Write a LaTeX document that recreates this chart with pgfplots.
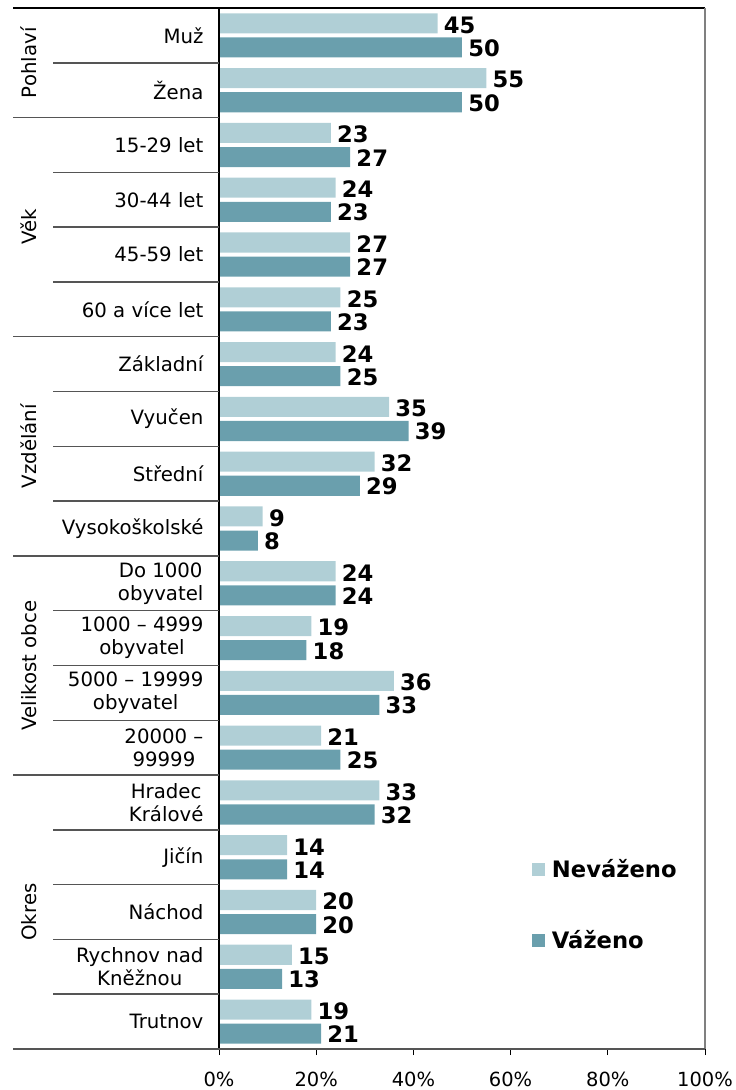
\documentclass[border=0pt]{standalone}
\usepackage{pgfplots}
\pgfplotsset{compat=1.18}
\usepackage{fontspec}
\setmainfont{DejaVu Sans}
\definecolor{light}{RGB}{176,207,214}
\definecolor{dark}{RGB}{106,159,173}
\definecolor{sep}{RGB}{85,85,85}
\begin{document}
\begin{tikzpicture}[x=0.75pt,y=0.75pt]
\useasboundingbox (-219,-41) rectangle (517,1049);
\begin{axis}[
  at={(0,0)}, anchor=south west,
  scale only axis, width=364.5pt, height=780.75pt,
  xmin=0, xmax=100, ymin=0.5, ymax=19.5, y dir=reverse,
  clip=false,
  axis line style={draw=none},
  xtick={0,20,40,60,80,100},
  xticklabels={0\%,20\%,40\%,60\%,80\%,100\%},
  xtick pos=bottom, tick align=outside, major tick length=4.5pt,
  xtick style={black, line width=0.6pt},
  xticklabel style={font=\fontsize{14.6}{17}\selectfont, yshift=-9pt},
  ytick={1,...,19},
  ytick style={draw=none},
  yticklabels={Muž,Žena,15-29 let,30-44 let,45-59 let,60 a více let,Základní,Vyučen,Střední,Vysokoškolské,{Do 1000\\obyvatel},{1000 -- 4999\\obyvatel},{5000 -- 19999\\obyvatel},{20000 --\\99999},{Hradec\\Králové},Jičín,Náchod,{Rychnov nad\\Kněžnou},Trutnov},
  yticklabel style={font=\fontsize{14.8}{17.3}\selectfont, align=center, anchor=east, inner sep=0pt},
  yticklabel shift=7pt,
  /pgf/number format/assume math mode=true,
  point meta=x,
  nodes near coords,
  every node near coord/.append style={font=\bfseries\fontsize{17}{18}\selectfont, anchor=west, black, inner sep=4.5pt},
  legend style={draw=none, fill=none, at={(axis cs:64.4,15.92)}, anchor=north west,
    font=\bfseries\fontsize{17}{18}\selectfont, row sep=28pt, inner sep=0pt,
    nodes={inner sep=5pt}},
  legend cell align=left,
]
\addplot[xbar, bar width=0.366, bar shift=-0.22, fill=light, draw=none,
  every node near coord/.append style={yshift=7.8pt},
  legend image code/.code={\fill[light] (0pt,-4.9pt) rectangle (9.75pt,4.9pt);}]
coordinates {
(45,1) (55,2) (23,3) (24,4) (27,5) (25,6) (24,7) (35,8) (32,9) (9,10)
(24,11) (19,12) (36,13) (21,14) (33,15) (14,16) (20,17) (15,18) (19,19)};
\addlegendentry{Neváženo}
\addplot[xbar, bar width=0.366, bar shift=0.22, fill=dark, draw=none,
  every node near coord/.append style={yshift=-9.6pt},
  legend image code/.code={\fill[dark] (0pt,-4.9pt) rectangle (9.75pt,4.9pt);}]
coordinates {
(50,1) (50,2) (27,3) (23,4) (27,5) (23,6) (25,7) (39,8) (29,9) (8,10)
(24,11) (18,12) (33,13) (25,14) (32,15) (14,16) (20,17) (13,18) (21,19)};
\addlegendentry{Váženo}
% frame
\draw[black, line width=0.9pt] (axis cs:0,0.5) -- ++(-154.5pt,0pt);
\draw[black, line width=0.9pt] (axis cs:0,0.5) -- (axis cs:100,0.5);
\draw[black, line width=0.8pt] (axis cs:0,0.5) -- (axis cs:0,19.5);
\draw[gray, line width=1.5pt] (axis cs:100,0.5) -- (axis cs:100,19.5);
\draw[sep, line width=1.1pt] (axis cs:0,19.5) -- ++(-154.5pt,0pt);
\draw[sep, line width=1.1pt] (axis cs:0,19.5) -- (axis cs:100,19.5);
% group separators
\pgfplotsinvokeforeach{2.5,6.5,10.5,14.5}{
  \draw[sep, line width=1.1pt] (axis cs:0,#1) -- ++(-154.5pt,0pt);
}
\pgfplotsinvokeforeach{1.5,3.5,4.5,5.5,7.5,8.5,9.5,11.5,12.5,13.5,15.5,16.5,17.5,18.5}{
  \draw[sep, line width=1.1pt] (axis cs:0,#1) -- ++(-124.5pt,0pt);
}
% group labels
\path (axis cs:0,1.5) ++(-136.5pt,0pt) node[rotate=90, anchor=base, font=\fontsize{14.8}{17}\selectfont, inner sep=0pt] {Pohlaví};
\path (axis cs:0,4.5) ++(-136.5pt,0pt) node[rotate=90, anchor=base, font=\fontsize{14.8}{17}\selectfont, inner sep=0pt] {Věk};
\path (axis cs:0,8.5) ++(-136.5pt,0pt) node[rotate=90, anchor=base, font=\fontsize{14.8}{17}\selectfont, inner sep=0pt] {Vzdělání};
\path (axis cs:0,12.5) ++(-136.5pt,0pt) node[rotate=90, anchor=base, font=\fontsize{14.8}{17}\selectfont, inner sep=0pt] {Velikost obce};
\path (axis cs:0,17) ++(-136.5pt,0pt) node[rotate=90, anchor=base, font=\fontsize{14.8}{17}\selectfont, inner sep=0pt] {Okres};
\end{axis}
\end{tikzpicture}
\end{document}
